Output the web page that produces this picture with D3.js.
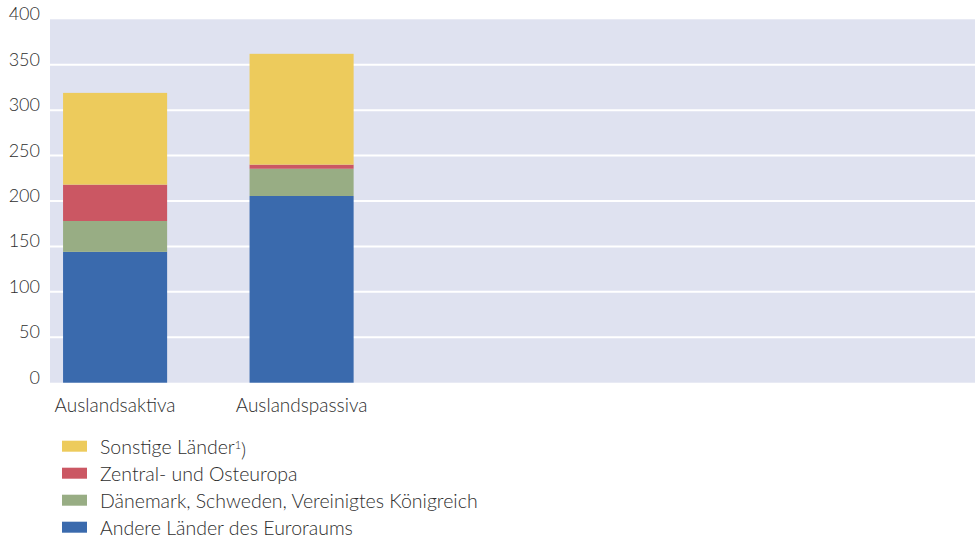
<!DOCTYPE html>
<html><head><meta charset="utf-8">
<script src="https://cdn.jsdelivr.net/npm/d3@7"></script>
<style>
body{margin:0;background:#fff;}
text{font-family:Lato, "Open Sans", sans-serif;font-weight:300;fill:#2e2e2e;}
</style></head>
<body><svg id="c" width="975" height="539"></svg>
<script>
const categories = ["Auslandsaktiva", "Auslandspassiva"];
const seriesNames = ["Andere Länder des Euroraums", "Dänemark, Schweden, Vereinigtes Königreich", "Zentral- und Osteuropa", "Sonstige Länder"];
const andereEuro = [144, 205.5];
const daenemark = [34, 30];
const zentralOst = [40, 4.5];
const sonstige = [101, 122];
const yTicks = [0, 50, 100, 150, 200, 250, 300, 350, 400];
const colors = ["#3a6aad", "#98ad84", "#cb5763", "#edcb5c"];

const svg = d3.select("#c");
const mLeft = 50, mRight = 975, mTop = 19.3, mBottom = 382.7;
const y = d3.scaleLinear().domain([0, 400]).range([mBottom, mTop]);
const step = 186.5, pi = 0.442, po = 0.07;
const x = d3.scaleBand().domain(categories)
  .range([mLeft, mLeft + step * (categories.length - pi + 2 * po)])
  .paddingInner(pi).paddingOuter(po);

svg.append("rect").attr("x", mLeft).attr("y", mTop).attr("width", mRight - mLeft).attr("height", mBottom - mTop).attr("fill", "#dfe2f0");

svg.append("g").selectAll("line").data(yTicks.filter(d => d > 0 && d < 400)).join("line")
  .attr("x1", mLeft).attr("x2", mRight).attr("y1", d => y(d)).attr("y2", d => y(d))
  .attr("stroke", "#fff").attr("stroke-width", 2);

const rows = categories.map((c, i) => ({cat: c, s0: andereEuro[i], s1: daenemark[i], s2: zentralOst[i], s3: sonstige[i]}));
const stack = d3.stack().keys(["s0", "s1", "s2", "s3"])(rows);
svg.append("g").selectAll("g").data(stack).join("g").attr("fill", (d, i) => colors[i])
  .selectAll("rect").data(d => d).join("rect")
  .attr("x", d => x(d.data.cat)).attr("width", x.bandwidth())
  .attr("y", d => y(d[1])).attr("height", d => y(d[0]) - y(d[1]));

svg.append("g").selectAll("text").data(yTicks).join("text")
  .attr("x", 40).attr("y", d => y(d) + 1).attr("text-anchor", "end")
  .style("font-size", "18px").text(d => d);

svg.append("g").selectAll("text").data(categories).join("text")
  .attr("x", d => x(d) + x.bandwidth() / 2).attr("y", 412).attr("text-anchor", "middle")
  .style("font-size", "19px").text(d => d);

const legendOrder = [3, 2, 1, 0];
const lg = svg.append("g").selectAll("g").data(legendOrder).join("g")
  .attr("transform", (d, i) => `translate(62,${440.7 + i * 27})`);
lg.append("rect").attr("width", 25).attr("height", 11).attr("fill", d => colors[d]);
lg.append("text").attr("x", 38).attr("y", 13).style("font-size", "19.5px")
  .each(function(d) {
    const t = d3.select(this);
    t.append("tspan").text(seriesNames[d]);
    if (d === 3) {
      t.append("tspan").attr("dy", "-0.4em").style("font-size", "11px").text("1");
      t.append("tspan").attr("dy", "0.4em").text(")");
    }
  });
</script></body></html>
